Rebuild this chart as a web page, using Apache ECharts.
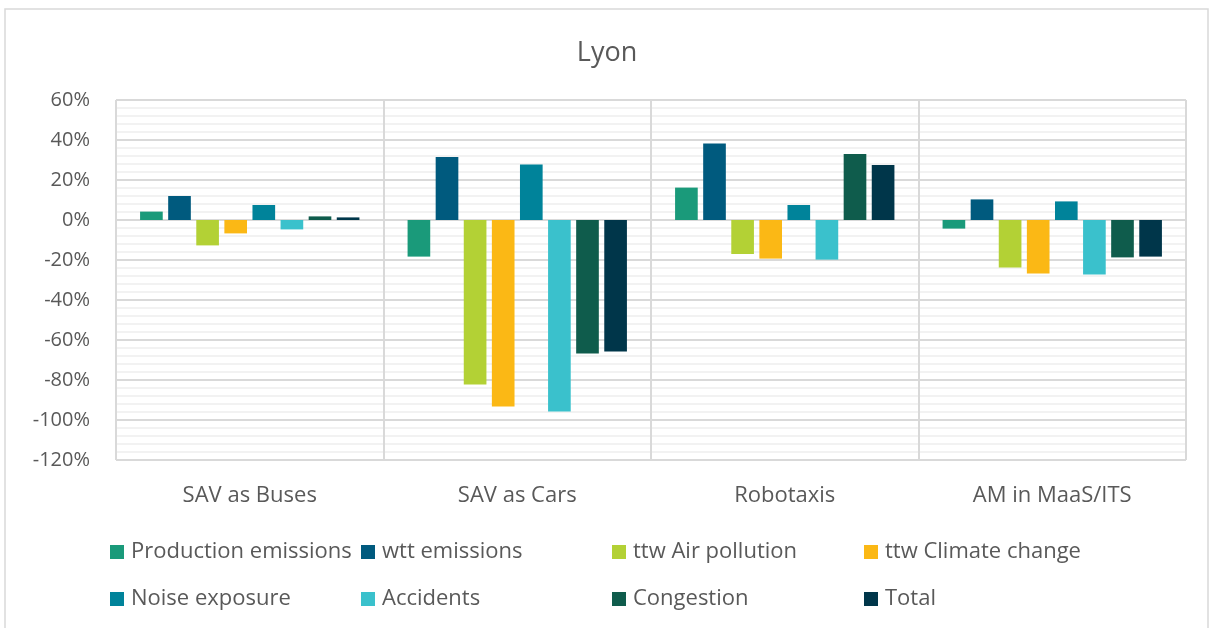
<!DOCTYPE html>
<html>
<head>
<meta charset="utf-8">
<script src="https://cdn.jsdelivr.net/npm/echarts@6/dist/echarts.min.js"></script>
<style>
  html, body { margin: 0; padding: 0; background: #fff; }
  #chart { width: 1214px; height: 628px; }
</style>
</head>
<body>
<div id="chart"></div>
<script>
const chartEl = document.getElementById('chart');
const chart = echarts.init(chartEl);

const categories = ['SAV as Buses', 'SAV as Cars', 'Robotaxis', 'AM in MaaS/ITS'];

// values in %, per category
const seriesData = [
  { name: 'Production emissions', color: '#1a9a7a', data: [4.2, -18.3, 16.2, -4.3] },
  { name: 'wtt emissions', color: '#005a7e', data: [12, 31.5, 38.3, 10.3] },
  { name: 'ttw Air pollution', color: '#b3d135', data: [-12.7, -82.3, -17, -23.8] },
  { name: 'ttw Climate change', color: '#fbb815', data: [-6.7, -93.3, -19.3, -26.7] },
  { name: 'Noise exposure', color: '#00839a', data: [7.5, 27.8, 7.5, 9.3] },
  { name: 'Accidents', color: '#3ac1cc', data: [-4.7, -95.7, -19.8, -27.3] },
  { name: 'Congestion', color: '#0f5c4c', data: [1.8, -66.7, 33, -18.7] },
  { name: 'Total', color: '#00364a', data: [1.3, -65.7, 27.5, -18.3] }
];

const textColor = '#595959';
const fontFamily = '"Open Sans", "Noto Sans", sans-serif';

// legend laid out as a 4 x 2 table like the source
const legendCols = [110, 361, 612, 864];
const legendRows = [541, 588];
const legends = seriesData.map((s, i) => ({
  left: legendCols[i % 4],
  top: legendRows[Math.floor(i / 4)],
  data: [s.name],
  itemWidth: 14,
  itemHeight: 14,
  itemGap: 0,
  padding: 0,
  icon: 'rect',
  textStyle: { color: textColor, fontSize: 22, fontFamily, padding: [0, 0, 0, 2] }
}));

const option = {
  animation: false,
  color: seriesData.map(s => s.color),
  title: {
    text: 'Lyon',
    left: 'center',
    top: 35,
    textStyle: { color: textColor, fontSize: 27, fontWeight: 'normal', fontFamily }
  },
  legend: legends,
  graphic: [
    {
      type: 'rect',
      shape: { x: 5, y: 9, width: 1203, height: 630 },
      style: { fill: 'none', stroke: '#d9d9d9', lineWidth: 1.5 },
      silent: true
    }
  ],
  grid: { left: 116, right: 28, top: 100, bottom: 168 },
  xAxis: {
    type: 'category',
    data: categories,
    axisLine: { show: false },
    axisTick: { show: false },
    axisLabel: { color: textColor, fontSize: 22, fontFamily, margin: 25 },
    splitLine: { show: true, lineStyle: { color: '#d9d9d9', width: 2 } }
  },
  yAxis: {
    type: 'value',
    min: -120,
    max: 60,
    interval: 20,
    axisLine: { show: false },
    axisTick: { show: false },
    axisLabel: {
      color: textColor,
      fontSize: 20,
      fontFamily,
      margin: 26,
      lineHeight: 30,
      verticalAlign: 'middle',
      padding: [6, 0, 0, 0],
      formatter: '{value}%'
    },
    splitLine: { lineStyle: { color: '#d9d9d9', width: 2 } },
    minorTick: { show: false, splitNumber: 5 },
    minorSplitLine: { show: true, lineStyle: { color: '#f2f2f2', width: 2 } }
  },
  series: seriesData.map(s => ({
    name: s.name,
    type: 'bar',
    data: s.data,
    barGap: '24%',
    barCategoryGap: '18%',
    itemStyle: { color: s.color }
  }))
};

chart.setOption(option);
</script>
</body>
</html>
